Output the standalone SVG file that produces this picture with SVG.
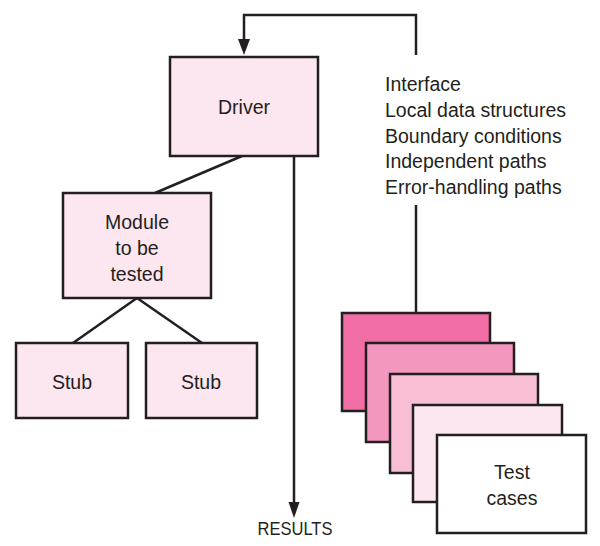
<svg xmlns="http://www.w3.org/2000/svg" width="600" height="546" viewBox="0 0 600 546">
<defs>
<style>
.box{stroke:#231f20;stroke-width:2.5;}
.ln{stroke:#231f20;stroke-width:2.5;fill:none;}
.ah{fill:#231f20;}
text{font-family:"Liberation Sans",Arial,sans-serif;font-size:19.5px;fill:#231f20;}
.c{text-anchor:middle;}
</style>
</defs>
<rect width="600" height="546" fill="#fff"/>
<g id="connectors">
<polyline class="ln" points="416,55 416,15 244,15 244,40"/>
<path class="ah" d="M238,39 L250,39 L244,55 Z"/>
<line class="ln" x1="242" y1="156" x2="155" y2="193"/>
<line class="ln" x1="294" y1="156" x2="294" y2="503"/>
<path class="ah" d="M288.5,502 L299.5,502 L294,518 Z"/>
<line class="ln" x1="137" y1="298" x2="73" y2="343"/>
<line class="ln" x1="137" y1="298" x2="202" y2="343"/>
<line class="ln" x1="416" y1="205" x2="416" y2="313"/>
</g>
<g id="driver">
<rect class="box" x="170" y="57" width="148" height="99" fill="#fce6ef"/>
<text class="c" x="244" y="114">Driver</text>
</g>
<g id="module">
<rect class="box" x="63" y="193" width="148" height="105" fill="#fce6ef"/>
<text class="c" x="137" y="229">Module</text>
<text class="c" x="137" y="255">to be</text>
<text class="c" x="137" y="281">tested</text>
</g>
<g id="stub1">
<rect class="box" x="16" y="343" width="112" height="75" fill="#fce6ef"/>
<text class="c" x="72" y="389">Stub</text>
</g>
<g id="stub2">
<rect class="box" x="146" y="343" width="111" height="75" fill="#fce6ef"/>
<text class="c" x="201" y="389">Stub</text>
</g>
<g id="checklist">
<text x="385" y="91">Interface</text>
<text x="385" y="117">Local data structures</text>
<text x="385" y="143">Boundary conditions</text>
<text x="385" y="168">Independent paths</text>
<text x="385" y="194">Error-handling paths</text>
</g>
<g id="testcases">
<rect class="box" x="342" y="313" width="148" height="98" fill="#f06ea4"/>
<rect class="box" x="366" y="343" width="148" height="99" fill="#f497be"/>
<rect class="box" x="390" y="374" width="148" height="99" fill="#f7bed6"/>
<rect class="box" x="413" y="405" width="149" height="97" fill="#fce6ef"/>
<rect class="box" x="437" y="435" width="149" height="98" fill="#ffffff"/>
<text class="c" x="512" y="479">Test</text>
<text class="c" x="512" y="505">cases</text>
</g>
<g id="results">
<text class="c" x="295" y="535" style="font-size:18.5px" textLength="75" lengthAdjust="spacingAndGlyphs">RESULTS</text>
</g>
</svg>
